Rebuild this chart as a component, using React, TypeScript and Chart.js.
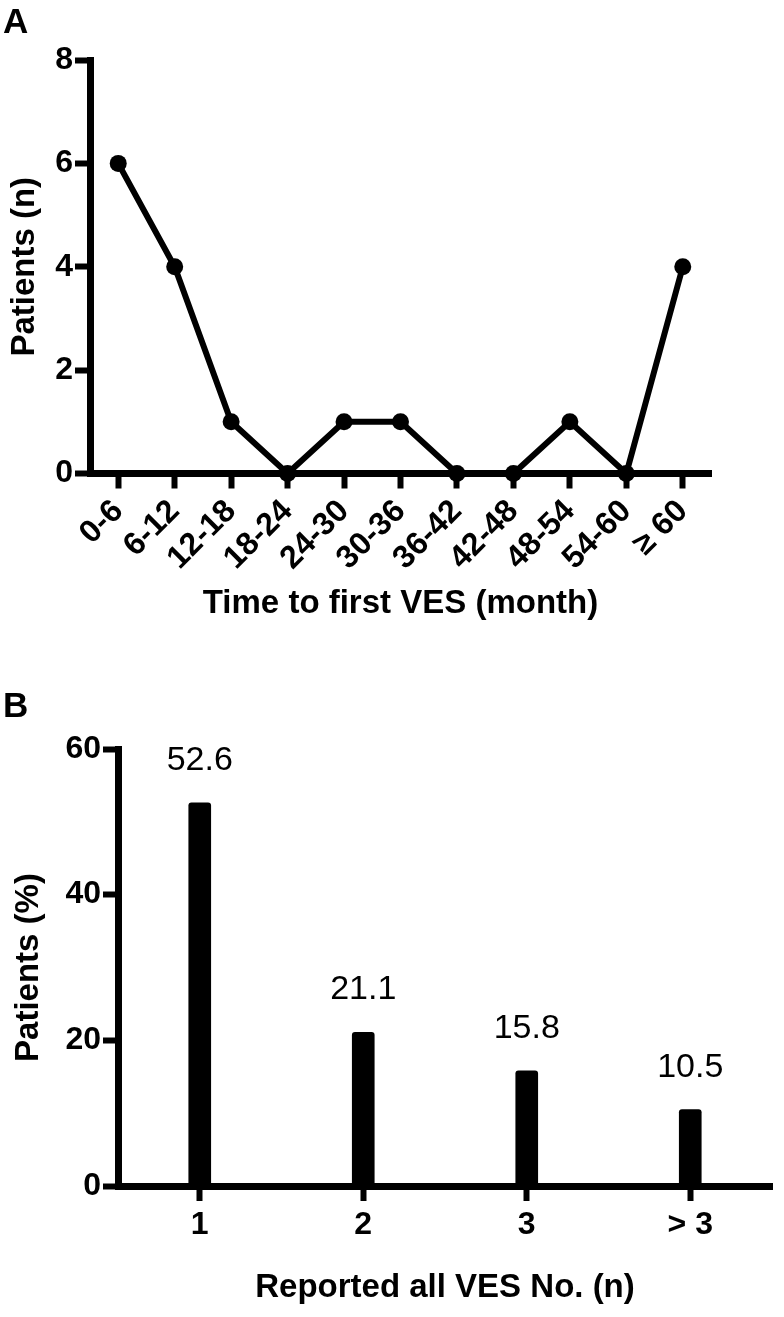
import React, { useEffect, useRef } from 'react';
import { Chart, registerables } from 'chart.js';

Chart.register(...registerables);

// ---- Panel A data ----
const intervalLabels = ['0-6', '6-12', '12-18', '18-24', '24-30', '30-36', '36-42', '42-48', '48-54', '54-60', '≥ 60'];
const patientCounts = [6, 4, 1, 0, 1, 1, 0, 0, 1, 0, 4];
const countTicks = [0, 2, 4, 6, 8];

// ---- Panel B data ----
const vesLabels = ['1', '2', '3', '> 3'];
const vesPercents = [52.6, 21.1, 15.8, 10.5];
const percentTicks = [0, 20, 40, 60];

const FONT = '"Liberation Sans", Arial, Helvetica, sans-serif';
const W = 784;
const A_H = 640;
const B_H = 677;

function axisStyle() {
  return {
    grid: {
      drawOnChartArea: false,
      drawTicks: true,
      tickLength: 15,
      tickWidth: 6,
      tickColor: '#000',
      color: '#000',
      offset: false,
    },
    border: { display: true, color: '#000', width: 7 },
  };
}

const valueLabelPlugin = {
  id: 'valueLabels',
  afterDatasetsDraw(chart: any) {
    const { ctx } = chart;
    const meta = chart.getDatasetMeta(0);
    ctx.save();
    ctx.font = `normal 34px ${FONT}`;
    ctx.fillStyle = '#000';
    ctx.textAlign = 'center';
    ctx.textBaseline = 'alphabetic';
    meta.data.forEach((bar: any, i: number) => {
      ctx.fillText(String(vesPercents[i]), bar.x, bar.y - 33);
    });
    ctx.restore();
  },
};

function PanelA() {
  const ref = useRef<HTMLCanvasElement | null>(null);
  useEffect(() => {
    if (!ref.current) return;
    const chart = new Chart(ref.current, {
      type: 'line',
      data: {
        labels: intervalLabels,
        datasets: [
          {
            data: patientCounts,
            borderColor: '#000',
            backgroundColor: '#000',
            borderWidth: 6,
            pointRadius: 8.5,
            pointHoverRadius: 8.5,
            pointBackgroundColor: '#000',
            pointBorderColor: '#000',
            pointBorderWidth: 0,
            tension: 0,
            fill: false,
            clip: false,
          } as any,
        ],
      },
      options: {
        responsive: false,
        animation: false,
        events: [],
        layout: { padding: { top: 60, right: 73, bottom: 0, left: 0 } },
        plugins: { legend: { display: false }, tooltip: { enabled: false } },
        scales: {
          x: {
            type: 'category',
            offset: true,
            ...axisStyle(),
            ticks: {
              color: '#000',
              font: { family: FONT, size: 32, weight: 'bold' },
              maxRotation: 45,
              minRotation: 45,
              padding: 4,
              autoSkip: false,
            },
            title: {
              display: true,
              text: 'Time to first VES (month)',
              color: '#000',
              font: { family: FONT, size: 33, weight: 'bold' },
              padding: { top: 0, bottom: 16 },
            },
            afterFit: (s: any) => {
              s.height = A_H - 473.5;
            },
          },
          y: {
            type: 'linear',
            min: countTicks[0],
            max: countTicks[countTicks.length - 1],
            ...axisStyle(),
            afterBuildTicks: (s: any) => {
              s.ticks = countTicks.map((v) => ({ value: v }));
            },
            ticks: {
              color: '#000',
              font: { family: FONT, size: 32, weight: 'bold' },
              padding: 2,
            },
            title: {
              display: true,
              text: 'Patients (n)',
              color: '#000',
              font: { family: FONT, size: 33, weight: 'bold' },
              padding: { top: 5, bottom: 0 },
            },
            afterFit: (s: any) => {
              s.width = 90;
            },
          },
        },
      } as any,
    });
    return () => chart.destroy();
  }, []);
  return <canvas ref={ref} width={W} height={A_H} style={{ display: 'block', width: W, height: A_H }} />;
}

function PanelB() {
  const ref = useRef<HTMLCanvasElement | null>(null);
  useEffect(() => {
    if (!ref.current) return;
    const chart = new Chart(ref.current, {
      type: 'bar',
      data: {
        labels: vesLabels,
        datasets: [
          {
            data: vesPercents,
            backgroundColor: '#000',
            borderWidth: 0,
            barThickness: 22,
            borderRadius: 3,
          } as any,
        ],
      },
      plugins: [valueLabelPlugin],
      options: {
        responsive: false,
        animation: false,
        events: [],
        layout: { padding: { top: 109, right: 12, bottom: 0, left: 0 } },
        plugins: { legend: { display: false }, tooltip: { enabled: false } },
        scales: {
          x: {
            type: 'category',
            offset: true,
            ...axisStyle(),
            ticks: {
              color: '#000',
              font: { family: FONT, size: 32, weight: 'bold' },
              maxRotation: 0,
              minRotation: 0,
              padding: 5,
              autoSkip: false,
            },
            title: {
              display: true,
              text: 'Reported all VES No. (n)',
              color: '#000',
              font: { family: FONT, size: 33, weight: 'bold' },
              padding: { top: 0, bottom: 9 },
            },
            afterFit: (s: any) => {
              s.height = B_H - 546;
            },
          },
          y: {
            type: 'linear',
            min: percentTicks[0],
            max: percentTicks[percentTicks.length - 1],
            ...axisStyle(),
            afterBuildTicks: (s: any) => {
              s.ticks = percentTicks.map((v) => ({ value: v }));
            },
            ticks: {
              color: '#000',
              font: { family: FONT, size: 32, weight: 'bold' },
              padding: 2,
            },
            title: {
              display: true,
              text: 'Patients (%)',
              color: '#000',
              font: { family: FONT, size: 33, weight: 'bold' },
              padding: { top: 9, bottom: 0 },
            },
            afterFit: (s: any) => {
              s.width = 118;
            },
          },
        },
      } as any,
    });
    return () => chart.destroy();
  }, []);
  return <canvas ref={ref} width={W} height={B_H} style={{ display: 'block', width: W, height: B_H }} />;
}

const letterStyle: React.CSSProperties = {
  position: 'absolute',
  left: 3,
  fontFamily: FONT,
  fontWeight: 'bold',
  fontSize: 35,
  lineHeight: '35px',
  color: '#000',
};

export default function App() {
  return (
    <div style={{ position: 'absolute', left: 0, top: 0, width: W, height: 1317, background: '#fff', overflow: 'hidden' }}>
      <div style={{ position: 'absolute', left: 0, top: 0 }}>
        <PanelA />
      </div>
      <div style={{ position: 'absolute', left: 0, top: A_H }}>
        <PanelB />
      </div>
      <div style={{ ...letterStyle, top: 3 }}>A</div>
      <div style={{ ...letterStyle, top: 687 }}>B</div>
    </div>
  );
}
